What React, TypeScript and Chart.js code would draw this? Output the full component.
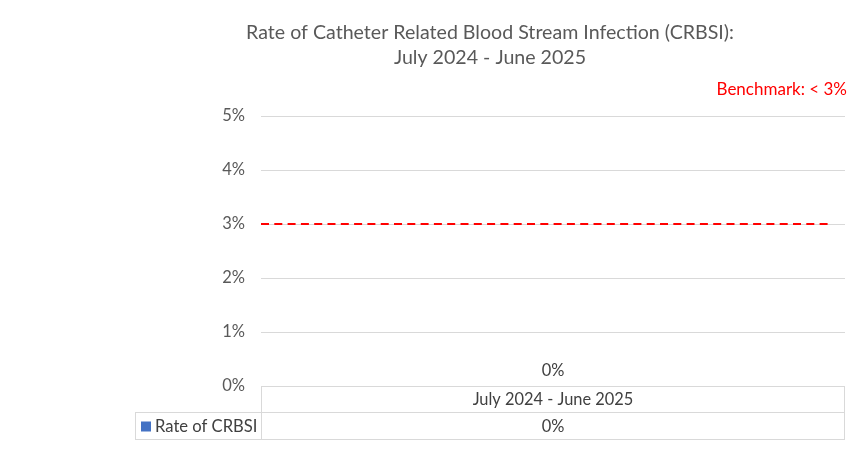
import React, { useEffect, useRef } from "react";
import { Chart, registerables } from "chart.js";

Chart.register(...registerables);

const categories = ["July 2024 - June 2025"];
const seriesName = "Rate of CRBSI";
const rateValues = [0];
const benchmarkValues = [3];
const benchmarkLabel = "Benchmark: < 3%";
const titleLines = ["Rate of Catheter Related Blood Stream Infection (CRBSI):", "July 2024 - June 2025"];
const yTicks = [0, 1, 2, 3, 4, 5];

const FONT = "Lato, 'Liberation Sans', sans-serif";
const GRID = "#d9d9d9";
const TEXT = "#595959";
const BLUE = "#4472C4";

const overlayPlugin = {
  id: "overlay",
  afterDatasetsDraw(chart: any) {
    const { ctx, chartArea } = chart;
    const y = chart.scales.y;
    ctx.save();
    // benchmark dashed line
    benchmarkValues.forEach((v) => {
      const py = y.getPixelForValue(v);
      ctx.strokeStyle = "#FF0000";
      ctx.lineWidth = 2;
      ctx.setLineDash([8, 5.3]);
      ctx.beginPath();
      ctx.moveTo(chartArea.left, py);
      ctx.lineTo(chartArea.right - 13, py);
      ctx.stroke();
    });
    ctx.setLineDash([]);
    // bar data labels
    const meta = chart.getDatasetMeta(0);
    ctx.fillStyle = "#404040";
    ctx.font = `16.4px ${FONT}`;
    ctx.textAlign = "center";
    ctx.textBaseline = "bottom";
    meta.data.forEach((bar: any, i: number) => {
      ctx.fillText(rateValues[i] + "%", bar.x, bar.y - 7);
    });
    ctx.restore();
  },
  afterDraw(chart: any) {
    const { ctx, chartArea } = chart;
    const x = chart.scales.x;
    ctx.save();
    // title
    ctx.fillStyle = TEXT;
    ctx.font = `19.6px ${FONT}`;
    ctx.textAlign = "center";
    ctx.textBaseline = "middle";
    ctx.fillText(titleLines[0], 490, 33);
    ctx.fillText(titleLines[1], 490, 58);
    // benchmark label
    ctx.fillStyle = "#FF0000";
    ctx.font = `17px ${FONT}`;
    ctx.textAlign = "right";
    ctx.fillText(benchmarkLabel, 847, 90);

    // data table
    const left = chartArea.left;
    const right = chartArea.right;
    const top = chartArea.bottom;
    const row1 = top + 26;
    const row2 = row1 + 27;
    const legendLeft = 135;
    ctx.strokeStyle = GRID;
    ctx.lineWidth = 1;
    ctx.beginPath();
    ctx.moveTo(left, top + 0.5);
    ctx.lineTo(right, top + 0.5);
    ctx.moveTo(legendLeft, row1 + 0.5);
    ctx.lineTo(right, row1 + 0.5);
    ctx.moveTo(legendLeft, row2 + 0.5);
    ctx.lineTo(right, row2 + 0.5);
    ctx.moveTo(left + 0.5, top);
    ctx.lineTo(left + 0.5, row2);
    ctx.moveTo(right - 0.5, top);
    ctx.lineTo(right - 0.5, row2);
    ctx.moveTo(legendLeft + 0.5, row1);
    ctx.lineTo(legendLeft + 0.5, row2);
    ctx.stroke();

    ctx.fillStyle = "#404040";
    ctx.font = `16.4px ${FONT}`;
    ctx.textAlign = "center";
    ctx.textBaseline = "middle";
    categories.forEach((c, i) => {
      const cx = x.getPixelForValue(i);
      ctx.fillText(c, cx, (top + row1) / 2 + 1);
      ctx.fillText(rateValues[i] + "%", cx, (row1 + row2) / 2 + 1);
    });
    // legend key
    ctx.fillStyle = BLUE;
    ctx.fillRect(141, (row1 + row2) / 2 - 4, 10, 10);
    ctx.fillStyle = "#404040";
    ctx.font = `16.6px ${FONT}`;
    ctx.textAlign = "left";
    ctx.fillText(seriesName, 155, (row1 + row2) / 2 + 1);
    ctx.restore();
  },
};

export default function App() {
  const ref = useRef<HTMLCanvasElement | null>(null);
  useEffect(() => {
    if (!ref.current) return;
    const chart = new Chart(ref.current, {
      type: "bar",
      data: {
        labels: categories,
        datasets: [
          {
            label: seriesName,
            data: rateValues,
            backgroundColor: BLUE,
            barPercentage: 0.5,
          },
        ],
      },
      options: {
        animation: false,
        responsive: false,
        maintainAspectRatio: false,
        layout: { padding: { top: 116, right: 17, bottom: 87, left: 0 } },
        plugins: {
          legend: { display: false },
          title: { display: false },
          tooltip: { enabled: false },
        },
        scales: {
          x: { display: false },
          y: {
            min: 0,
            max: 5,
            afterBuildTicks: (scale: any) => {
              scale.ticks = yTicks.map((v) => ({ value: v }));
            },
            afterFit: (scale: any) => {
              scale.width = 261;
            },
            border: { display: false },
            grid: { color: GRID, drawTicks: false, lineWidth: 1 },
            ticks: {
              padding: 16,
              color: TEXT,
              font: { family: FONT, size: 16.5 },
              callback: (v: any) => v + "%",
            },
          },
        },
      },
      plugins: [overlayPlugin],
    });
    return () => chart.destroy();
  }, []);
  return (
    <div style={{ position: "fixed", left: 0, top: 0, width: 862, height: 473, background: "#fff" }}>
      <canvas ref={ref} width={862} height={473} style={{ width: 862, height: 473 }} />
    </div>
  );
}
